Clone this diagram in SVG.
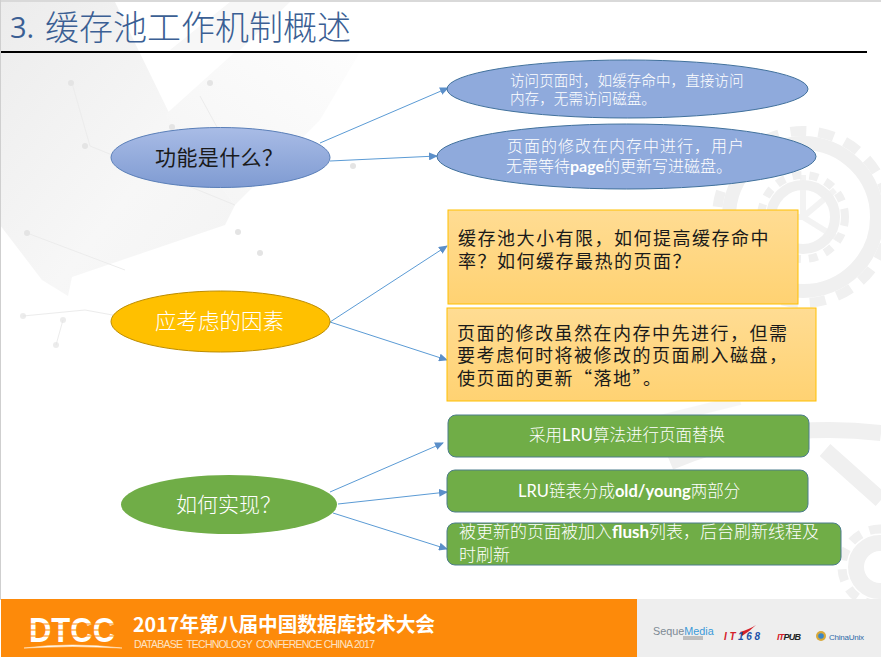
<svg xmlns="http://www.w3.org/2000/svg" width="881" height="657" viewBox="0 0 881 657">
<style>
text{font-family:"Noto Sans CJK SC","Liberation Sans",sans-serif;font-weight:300}
.lat{font-family:"Lato","Liberation Sans",sans-serif;font-weight:700}
.lat2{font-family:"Lato","Liberation Sans",sans-serif;font-weight:400}
.sans{font-family:"Liberation Sans",sans-serif}
.node{stroke-width:1}
.conn{fill:none;stroke:#5b9bd5;stroke-width:1;marker-end:url(#arr)}
.w{fill:#fff}
.k{fill:#1a1a1a;font-weight:400}
.dot{fill:#e4e4e4}
</style>
<defs>
<linearGradient id="blue" x1="0" y1="0" x2="0" y2="1"><stop offset="0" stop-color="#a9bce6"/><stop offset="1" stop-color="#7f9bd2"/></linearGradient>
<linearGradient id="org" x1="0" y1="0" x2="0" y2="1"><stop offset="0" stop-color="#ffdc93"/><stop offset="1" stop-color="#ffd272"/></linearGradient>
<marker id="arr" markerWidth="9" markerHeight="8" refX="8" refY="4" orient="auto" markerUnits="userSpaceOnUse"><path d="M0 0L9 4L0 8Z" fill="#5b8fc9"/></marker>
<linearGradient id="tl" x1="0" y1="0" x2="1" y2="1"><stop offset="0" stop-color="#ececec"/><stop offset=".6" stop-color="#f7f7f7"/><stop offset="1" stop-color="#f3f3f3"/></linearGradient>
<linearGradient id="tr" x1="0" y1="1" x2="1" y2="0"><stop offset="0" stop-color="#f4f4f4"/><stop offset="1" stop-color="#fdfdfd"/></linearGradient>
</defs>
<rect width="881" height="657" fill="#fff"/>
<g id="background">
<path d="M0 2H115L175 125L235 205L225 225L72 277L68 296L42 280L0 225Z" fill="url(#tl)"/>
<path d="M165 115L235 52L360 52L320 120L235 205Z" fill="url(#tr)"/>
<path d="M230 2H290L240 50H170Z" fill="#f7f7f7"/>
<path d="M72 83L90 146L235 205M27 233L125 270M200 96L235 160M23 316L85 310L140 320M63 320L56 345" fill="none" stroke="#ececec"/>
<circle class="dot" cx="71" cy="83" r="3"/><circle class="dot" cx="85" cy="146" r="3"/><circle class="dot" cx="172" cy="127" r="3"/><circle class="dot" cx="210" cy="83" r="3"/><circle class="dot" cx="353" cy="166" r="3"/><circle class="dot" cx="238" cy="232" r="3"/><circle class="dot" cx="260" cy="253" r="3"/><circle class="dot" cx="27" cy="233" r="3"/><circle class="dot" cx="23" cy="316" r="3" opacity=".7"/><circle class="dot" cx="63" cy="320" r="3" opacity=".7"/><circle class="dot" cx="56" cy="345" r="3" opacity=".7"/>
<rect x="0" y="0" width="881" height="2" fill="#d9d9d9"/>
<rect x="0" y="0" width="1" height="600" fill="#cfcfcf"/>
<g fill="none" stroke="#f0f0f0">
<circle cx="803" cy="217" r="32" stroke-width="10"/>
<circle cx="803" cy="217" r="42" stroke-width="8" stroke-dasharray="9 8"/>
<circle cx="803" cy="217" r="74" stroke-width="14"/>
<circle cx="803" cy="217" r="86" stroke-width="10" stroke-dasharray="16 12"/>
<path d="M803 217H760M803 217V175M803 217L835 190M803 217L840 240" stroke-width="6" opacity=".8"/>
<circle cx="880" cy="567" r="24" stroke-width="16"/>
<circle cx="880" cy="567" r="38" stroke-width="9" stroke-dasharray="12 9"/>
<path d="M670 462Q770 420 881 433M825 450L881 500" stroke-width="16"/>
<path d="M660 420L740 400" stroke-width="10" opacity=".6"/>
</g>
</g>
<g id="title">
<text x="10" y="38" font-size="29" fill="#3b5f94" class="sans" style="font-family:'Open Sans',sans-serif;font-weight:400">3.</text>
<text x="45" y="40" font-size="34" fill="#3b5f94">缓存池工作机制概述</text>
<rect x="1" y="51" width="866" height="2" fill="#000"/>
</g>
<g id="connectors">
<path class="conn" d="M320 143L448 88"/>
<path class="conn" d="M330 161L437 156"/>
<path class="conn" d="M330 322L447 246"/>
<path class="conn" d="M330 322L447 360"/>
<path class="conn" d="M330 492L443 443"/>
<path class="conn" d="M338 504L447 492"/>
<path class="conn" d="M333 513L447 549"/>
</g>
<g id="n-what">
<ellipse class="node" cx="220.500" cy="157.500" rx="109.500" ry="30" fill="url(#blue)" stroke="#5a7fb8"/>
<text x="155" y="165" font-size="21" class="k" letter-spacing="0.400">功能是什么？</text>
</g>
<g id="n-access">
<ellipse class="node" cx="627.500" cy="89" rx="180.500" ry="29" fill="#8faadc" stroke="#41719c"/>
<text x="510" y="86" font-size="14.600" class="w">访问页面时，如缓存命中，直接访问</text>
<text x="510" y="104" font-size="14.600" class="w">内存，无需访问磁盘。</text>
</g>
<g id="n-modify">
<ellipse class="node" cx="626.500" cy="156.500" rx="189.500" ry="32.500" fill="#8faadc" stroke="#41719c"/>
<text x="507" y="152" font-size="16" letter-spacing="1" class="w">页面的修改在内存中进行，用户</text>
<text x="506" y="172" font-size="16" class="w">无需等待<tspan class="lat">page</tspan>的更新写进磁盘。</text>
</g>
<g id="n-factors">
<ellipse class="node" cx="220.500" cy="321.500" rx="109.500" ry="30.500" fill="#ffc000" stroke="#bc8c00"/>
<text x="155" y="329" font-size="21.500" class="w">应考虑的因素</text>
</g>
<g id="n-size">
<rect class="node" x="448" y="210" width="350" height="94" fill="url(#org)" stroke="#ffc000"/>
<text x="458" y="245" font-size="18" letter-spacing="1.500" class="k">缓存池大小有限，如何提高缓存命中</text>
<text x="458" y="268" font-size="18" letter-spacing="1.500" class="k">率？如何缓存最热的页面？</text>
</g>
<g id="n-flush">
<rect class="node" x="447" y="308" width="369" height="93" fill="url(#org)" stroke="#ffc000"/>
<text x="457" y="340" font-size="18" letter-spacing="1.500" class="k">页面的修改虽然在内存中先进行，但需</text>
<text x="457" y="362" font-size="18" letter-spacing="1.500" class="k">要考虑何时将被修改的页面刷入磁盘，</text>
<text x="457" y="385" font-size="18" letter-spacing="1.500" class="k">使页面的更新“落地”。</text>
</g>
<g id="n-how">
<ellipse class="node" cx="229" cy="504.500" rx="108" ry="29.500" fill="#70ad47"/>
<text x="176" y="512" font-size="21" class="w">如何实现？</text>
</g>
<g id="n-lru">
<rect class="node" x="448" y="415" width="361" height="42" rx="8" fill="#70ad47" stroke="#4c7d8c"/>
<text x="529" y="441" font-size="16.500" class="w">采用<tspan class="lat2">LRU</tspan>算法进行页面替换</text>
</g>
<g id="n-list">
<rect class="node" x="447" y="470" width="361" height="42" rx="8" fill="#70ad47" stroke="#4c7d8c"/>
<text x="518" y="497" font-size="16.500" class="w"><tspan class="lat2">LRU</tspan>链表分成<tspan class="lat">old/young</tspan>两部分</text>
</g>
<g id="n-dirty">
<rect class="node" x="447" y="523" width="394" height="42" rx="8" fill="#70ad47" stroke="#4c7d8c"/>
<text x="459" y="538" font-size="17" class="w">被更新的页面被加入<tspan class="lat">flush</tspan>列表，后台刷新线程及</text>
<text x="459" y="561" font-size="17" class="w">时刷新</text>
</g>
<g id="footer">
<rect x="637" y="599" width="244" height="58" fill="#eeeeee"/>
<rect x="1" y="599" width="636" height="58" fill="#fd8a0a"/>
<text x="29" y="642" font-size="35" class="sans" style="font-weight:700" fill="#fff" textLength="86" lengthAdjust="spacingAndGlyphs">DTCC</text>
<path d="M28 624H116M28 630H116M28 636H116" stroke="#fd8a0a" stroke-width="1.200"/>
<path d="M24 648Q72 642 122 648Q72 645 24 648Z" fill="#fff" stroke="#ffe8c8" stroke-width=".6"/>
<text x="133" y="632" font-size="20" fill="#fff" style="font-weight:700" textLength="302" lengthAdjust="spacingAndGlyphs">2017年第八届中国数据库技术大会</text>
<text x="134" y="648" font-size="10.500" class="sans" style="font-weight:400" fill="#fde3c2" xml:space="preserve" textLength="241" lengthAdjust="spacing">DATABASE  TECHNOLOGY  CONFERENCE CHINA 2017</text>
<text x="653" y="635" font-size="10.800" class="sans" style="font-weight:400" fill="#7d8a94">Seque<tspan fill="#3a9ad9">Media</tspan></text>
<rect x="683" y="636" width="20" height="4" fill="#a9a9a9" opacity=".7"/>
<path d="M740 632Q750 629 756 625Q750 631 742 636Z" fill="#d5202a"/>
<text x="724" y="640" font-size="10" class="sans" style="font-weight:700;font-style:italic" fill="#1a4fa8" textLength="36"><tspan fill="#d5202a">IT</tspan>168</text>
<text x="777" y="640" font-size="9" class="sans" style="font-weight:700;font-style:italic" fill="#222" textLength="24"><tspan fill="#d5202a">IT</tspan>PUB</text>
<circle cx="821" cy="636" r="5" fill="#d9a93a"/><circle cx="821" cy="636" r="2.800" fill="#3b86c6"/>
<text x="829" y="640" font-size="8" class="sans" style="font-weight:400" fill="#2f6aa8" textLength="35">ChinaUnix</text>
</g>
</svg>
